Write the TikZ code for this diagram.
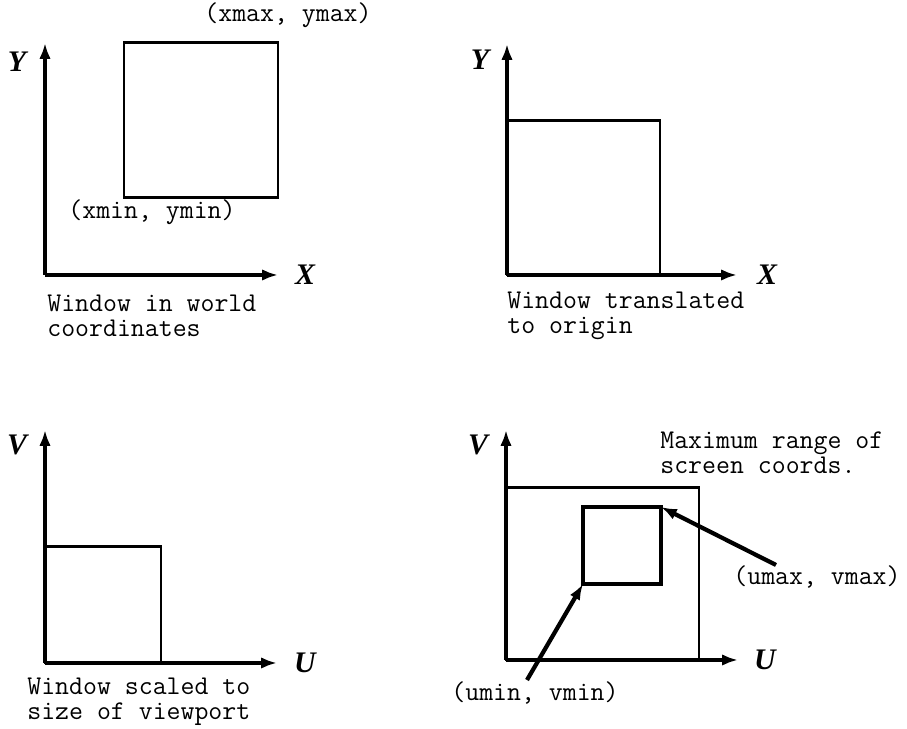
\documentclass[tikz,border=0pt]{standalone}
\usepackage{fontspec}
\newfontfamily\axisfont{Liberation Serif}
\usetikzlibrary{arrows.meta}

\tikzset{
  axis/.style={->, line width=2pt},
  frame/.style={line width=1.7pt},
  viewport/.style={line width=2.8pt},
  pointer/.style={->, line width=2.4pt},
  axislabel/.style={font=\axisfont\bfseries\itshape\fontsize{17}{17}\selectfont, inner sep=0pt},
  note/.style={font=\ttfamily\fontsize{15.4}{14.5}\selectfont, inner sep=0pt, align=left},
}

\begin{document}
\begin{tikzpicture}[x=0.02cm, y=0.02cm, >={Latex[length=9pt,width=6.5pt]}]
  \useasboundingbox (0,0) rectangle (907,729);
  % Window in world coordinates
  \begin{scope}[shift={(45,454)}]
    \coordinate (o1) at (0,0);
    \coordinate (xend1) at (233,0);
    \coordinate (yend1) at (0,232);
    \draw[axis] (o1) -- (xend1);
    \draw[axis] (o1) -- (yend1);
    \node[axislabel] (xlab1) at (260,0) {X};
    \node[axislabel] (ylab1) at (-28,213) {Y};
    \draw[frame] (79,77) rectangle (233,232);
    \node[note] (wmax) at (243,260) {(xmax, ymax)};
    \node[note] (wmin) at (107,63) {(xmin, ymin)};
    \node[note, anchor=west] (cap1) at (2,-41) {Window in world\\coordinates};
  \end{scope}
  % Window translated to origin
  \begin{scope}[shift={(507,454)}]
    \coordinate (o2) at (0,0);
    \coordinate (xend2) at (230,0);
    \coordinate (yend2) at (0,231);
    \draw[axis] (o2) -- (xend2);
    \draw[axis] (o2) -- (yend2);
    \node[axislabel] (xlab2) at (260,0) {X};
    \node[axislabel] (ylab2) at (-27,215) {Y};
    \draw[frame] (0,0) rectangle (153,154);
    \node[note, anchor=west] (cap2) at (0,-41) {Window translated\\to origin};
  \end{scope}
  % Window scaled to size of viewport
  \begin{scope}[shift={(45,66)}]
    \coordinate (o3) at (0,0);
    \coordinate (xend3) at (232,0);
    \coordinate (yend3) at (0,233);
    \draw[axis] (o3) -- (xend3);
    \draw[axis] (o3) -- (yend3);
    \node[axislabel] (ulab3) at (260,0) {U};
    \node[axislabel] (vlab3) at (-28,218) {V};
    \draw[frame] (0,0) rectangle (116,116);
    \node[note, anchor=west] (cap3) at (-18,-39) {Window scaled to\\size of viewport};
  \end{scope}
  % Viewport inside screen range
  \begin{scope}[shift={(506,69)}]
    \coordinate (o4) at (0,0);
    \coordinate (xend4) at (232,0);
    \coordinate (yend4) at (0,230);
    \draw[axis] (o4) -- (xend4);
    \draw[axis] (o4) -- (yend4);
    \node[axislabel] (ulab4) at (259,0) {U};
    \node[axislabel] (vlab4) at (-28,215) {V};
    \draw[frame] (0,0) rectangle (193,172);
    \coordinate (vmin) at (77,76);
    \coordinate (vmax) at (155,153);
    \draw[viewport] (vmin) rectangle (vmax);
    \node[note, anchor=west] (range) at (154,207) {Maximum range of\\screen coords.};
    \node[note] (umaxlab) at (311,83) {(umax, vmax)};
    \node[note] (uminlab) at (29,-33) {(umin, vmin)};
    \coordinate (umaxtail) at (270,95);
    \coordinate (umintail) at (21,-20);
    \draw[pointer] (umaxtail) -- (vmax);
    \draw[pointer] (umintail) -- (vmin);
  \end{scope}
\end{tikzpicture}
\end{document}
